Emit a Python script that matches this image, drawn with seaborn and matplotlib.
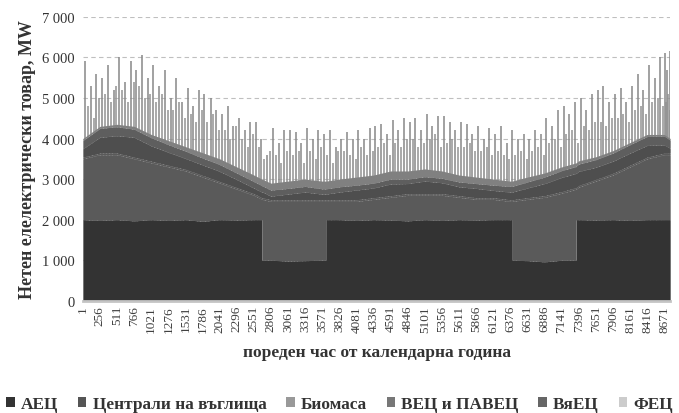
import numpy as np
import matplotlib
matplotlib.use("Agg")
import matplotlib.pyplot as plt
import seaborn as sns
from matplotlib.patches import Patch
from matplotlib.ticker import FuncFormatter

sns.set_theme(style="white")
plt.rcParams['font.family'] = ['Liberation Serif', 'DejaVu Serif']

# hours of the year where the level of each layer was read
hours = [1, 256, 511, 766, 1021, 1276, 1531, 1786, 2041, 2296, 2551, 2670,
         2671, 2806, 3061, 3316, 3571, 3626, 3627, 3826, 4081, 4336, 4591,
         4846, 5101, 5356, 5611, 5866, 6121, 6376, 6401, 6402, 6631, 6886,
         7141, 7357, 7358, 7396, 7651, 7906, 8161, 8416, 8671, 8760]

# MW per layer
nuclear = [2000, 1980, 2000, 1970, 2000, 1980, 2000, 1960, 2000, 1990, 2000, 2000,
           1000, 1000, 980, 990, 1000, 1000, 2000, 2000, 1980, 2000, 1990,
           1970, 2000, 1980, 2000, 1990, 2000, 2000, 2000, 1000, 990, 960,
           1000, 1000, 2000, 2000, 1990, 2000, 1980, 2000, 2000, 2000]
coal = [1500, 1620, 1600, 1530, 1400, 1320, 1200, 1090, 900, 760, 600, 500,
        1500, 1450, 1470, 1460, 1450, 1450, 450, 450, 470, 500, 560,
        630, 600, 620, 550, 510, 500, 450, 450, 1450, 1510, 1590,
        1650, 1750, 750, 800, 960, 1100, 1320, 1500, 1600, 1600]
biomass = [40, 40, 40, 40, 40, 40, 40, 40, 40, 40, 40, 40,
           40, 40, 40, 40, 40, 40, 40, 40, 40, 40, 40,
           40, 40, 40, 40, 40, 40, 40, 40, 40, 40, 40,
           40, 40, 40, 40, 40, 40, 40, 40, 40, 40]
hydro = [210, 390, 430, 490, 380, 320, 270, 260, 250, 200, 140, 140,
         150, 90, 140, 190, 140, 140, 140, 190, 240, 240, 290,
         250, 310, 270, 220, 230, 180, 190, 190, 190, 240, 300,
         350, 350, 350, 350, 300, 300, 300, 290, 200, 120]
wind = [200, 220, 220, 200, 200, 190, 180, 170, 170, 160, 160, 160,
        150, 150, 140, 140, 130, 130, 130, 130, 120, 120, 120,
        110, 110, 110, 120, 120, 130, 140, 140, 140, 150, 160,
        170, 170, 180, 180, 190, 200, 210, 220, 220, 200]
solar = [50, 50, 60, 70, 80, 100, 110, 130, 140, 150, 160, 160,
         160, 170, 180, 180, 190, 190, 190, 190, 200, 200, 200,
         200, 190, 180, 170, 160, 150, 130, 130, 130, 120, 100,
         90, 90, 80, 80, 70, 60, 50, 50, 40, 40]

# daily peaks of the net load (the tall spikes)
peak_hours = [30, 120, 200, 290, 375, 460, 540, 630, 715, 800, 885, 970,
              1050, 1140, 1225, 1310, 1395, 1480, 1565, 1650, 1735, 1815, 1905, 1990,
              2070, 2160, 2245, 2325, 2415, 2500, 2580, 2665, 2750, 2835, 2920, 3005,
              3090, 3175, 3260, 3345, 3430, 3515, 3600, 3685, 3770, 3855, 3940, 4025,
              4110, 4195, 4280, 4365, 4450, 4535, 4620, 4705, 4790, 4875, 4960, 5045,
              5130, 5215, 5300, 5385, 5470, 5555, 5640, 5725, 5810, 5895, 5980, 6065,
              6150, 6235, 6320, 6405, 6490, 6575, 6660, 6745, 6830, 6915, 7000, 7085,
              7170, 7255, 7340, 7425, 7510, 7595, 7680, 7765, 7850, 7935, 8020, 8105,
              8190, 8275, 8360, 8445, 8530, 8615, 8690, 8720, 8750]
peak_mw = [5900, 5300, 5600, 5500, 5800, 5200, 6000, 5400, 5900, 5700, 6050, 5500,
           5800, 5300, 5700, 5000, 5500, 4900, 5250, 4800, 5200, 5100, 5000, 4700,
           4600, 4800, 4300, 4500, 4200, 4400, 4400, 4000, 3600, 4250, 3900, 4200,
           4200, 4150, 3900, 4250, 4000, 4200, 4100, 4200, 3800, 4000, 4150, 4000,
           4200, 4000, 4250, 4300, 4350, 4100, 4450, 4200, 4500, 4400, 4500, 4200,
           4600, 4300, 4550, 4550, 4400, 4200, 4400, 4350, 4100, 4300, 4000, 4250,
           4100, 4300, 3900, 4200, 4000, 4100, 4000, 4200, 4100, 4500, 4300, 4700,
           4800, 4600, 4900, 5000, 4700, 5100, 5200, 5300, 4900, 5100, 5250, 4900,
           5300, 5600, 5200, 5800, 5500, 6000, 6100, 5700, 6150]

# lower evening peaks between them
peak2_hours = [72, 162, 245, 332, 418, 500, 585, 672, 758, 842, 928, 1010,
               1095, 1182, 1268, 1352, 1438, 1522, 1608, 1692, 1775, 1860, 1948, 2030,
               2115, 2202, 2285, 2370, 2458, 2540, 2622, 2708, 2792, 2878, 2962, 3048,
               3132, 3218, 3302, 3388, 3472, 3558, 3642, 3728, 3812, 3898, 3982, 4068,
               4152, 4238, 4322, 4408, 4492, 4578, 4662, 4748, 4832, 4918, 5002, 5088,
               5172, 5258, 5342, 5428, 5512, 5598, 5682, 5768, 5852, 5938, 6022, 6108,
               6192, 6278, 6362, 6448, 6532, 6618, 6702, 6788, 6872, 6958, 7042, 7128,
               7212, 7298, 7382, 7468, 7552, 7638, 7722, 7808, 7892, 7978, 8062, 8148,
               8232, 8318, 8402, 8488, 8572, 8655, 8705, 8735, 8758]
peak2_mw = [4800, 4500, 5000, 5100, 4900, 5300, 5200, 4900, 5400, 5300, 5000, 5100,
            4900, 5100, 4700, 4700, 4900, 4500, 4600, 4400, 4700, 4400, 4600, 4200,
            4200, 4000, 4300, 4000, 3800, 4100, 3800, 3500, 3700, 3600, 3400, 3700,
            3600, 3700, 3400, 3700, 3500, 3800, 3600, 3400, 3700, 3700, 3600, 3500,
            3800, 3600, 3700, 3800, 3900, 3600, 3900, 3800, 4000, 4000, 3800, 3900,
            4000, 4100, 3800, 3900, 4000, 3800, 3800, 3900, 3700, 3700, 3800, 3600,
            3700, 3600, 3500, 3600, 3700, 3500, 3700, 3800, 3600, 3900, 4000, 3800,
            4100, 4200, 3900, 4300, 4200, 4400, 4400, 4300, 4500, 4500, 4600, 4400,
            4700, 4800, 4600, 4900, 5000, 4800, 4900, 5100, 4700]

labels = ['АЕЦ', 'Централи на въглища', 'Биомаса', 'ВЕЦ и ПАВЕЦ', 'ВяЕЦ', 'ФЕЦ']
fill_colors = ['#333333', '#5a5a5a', '#5a5a5a', '#4e4e4e', '#5e5e5e', '#808080']
legend_colors = ['#333333', '#555555', '#999999', '#777777', '#666666', '#cccccc']

tick_hours = [1, 256, 511, 766, 1021, 1276, 1531, 1786, 2041, 2296, 2551, 2806,
              3061, 3316, 3571, 3826, 4081, 4336, 4591, 4846, 5101, 5356, 5611,
              5866, 6121, 6376, 6631, 6886, 7141, 7396, 7651, 7906, 8161, 8416, 8671]

fig = plt.figure(figsize=(6.79, 4.14), dpi=100)
ax = fig.add_axes([0.122, 0.271, 0.865, 0.686])

ax.vlines(peak_hours, 0, peak_mw, color='#888888', linewidth=1.1, zorder=1)
ax.vlines(peak2_hours, 0, peak2_mw, color='#929292', linewidth=1.1, zorder=1)
ax.stackplot(hours, nuclear, coal, biomass, hydro, wind, solar,
             colors=fill_colors, linewidth=0, zorder=2)

ax.set_xlim(1, 8760)
ax.set_ylim(0, 7000)
ax.set_yticks(range(0, 7001, 1000))
ax.yaxis.set_major_formatter(FuncFormatter(lambda v, p: f"{int(v):,}".replace(',', ' ')))
ax.set_xticks(tick_hours)
ax.set_xticklabels([str(h) for h in tick_hours], rotation=90, fontsize=9.5, color='#404040')
ax.tick_params(axis='y', labelsize=10.5, colors='#333333', length=0, pad=6)
ax.tick_params(axis='x', length=0, pad=3)

ax.grid(axis='y', color='#bfbfbf', linestyle=(0, (4, 3)), linewidth=0.8, zorder=0)
ax.grid(axis='x', visible=False)
ax.set_axisbelow(True)
for s in ['top', 'right', 'left']:
    ax.spines[s].set_visible(False)
ax.spines['bottom'].set_color('#c4c4c4')
ax.spines['bottom'].set_linewidth(2)

ax.set_ylabel('Нетен елелектрически товар, MW', fontsize=13, fontweight='bold',
              color='#333333', labelpad=4)
ax.set_xlabel('пореден час от календарна година', fontsize=12.5, fontweight='bold',
              color='#333333', labelpad=9)

handles = [Patch(facecolor=c, edgecolor='none') for c in legend_colors]
fig.legend(handles, labels, loc='lower center', bbox_to_anchor=(0.5, -0.035), ncol=6,
           frameon=False, handlelength=0.5, handleheight=0.5,
           handletextpad=0.35, columnspacing=1.15,
           prop={'weight': 'bold', 'size': 12.4})
for t in fig.legends[0].get_texts():
    t.set_color('#333333')

fig.savefig('out.png', dpi=100)
